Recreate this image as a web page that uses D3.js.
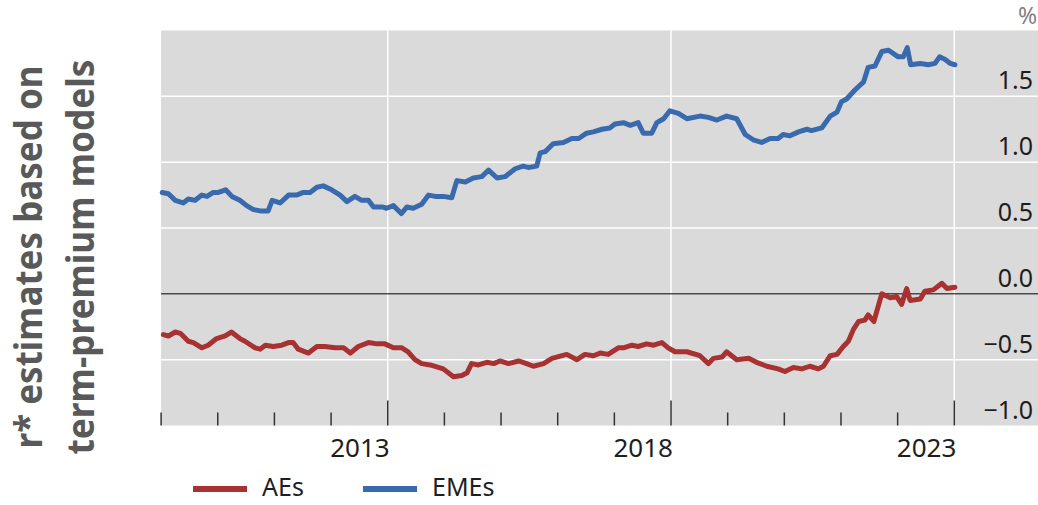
<!DOCTYPE html>
<html>
<head>
<meta charset="utf-8">
<script src="https://cdn.jsdelivr.net/npm/d3@7"></script>
<style>
  body { margin: 0; background: #fff; }
  svg { display: block; }
</style>
</head>
<body>
<svg id="chart" width="1038" height="505"></svg>
<script>
// values (decimal years, per cent)
var aeDates = [2009.04, 2009.13, 2009.25, 2009.34, 2009.48, 2009.57, 2009.72, 2009.83, 2009.98, 2010.13,
  2010.24, 2010.39, 2010.48, 2010.66, 2010.75, 2010.84, 2010.98, 2011.13, 2011.25, 2011.33,
  2011.42, 2011.60, 2011.75, 2011.89, 2012.07, 2012.22, 2012.34, 2012.48, 2012.66, 2012.81,
  2012.95, 2013.10, 2013.25, 2013.36, 2013.48, 2013.60, 2013.75, 2013.98, 2014.16, 2014.31,
  2014.40, 2014.48, 2014.60, 2014.75, 2014.87, 2014.98, 2015.13, 2015.31, 2015.45, 2015.57,
  2015.75, 2015.90, 2016.16, 2016.34, 2016.48, 2016.63, 2016.75, 2016.89, 2017.07, 2017.16,
  2017.31, 2017.42, 2017.57, 2017.69, 2017.84, 2017.95, 2018.07, 2018.28, 2018.51, 2018.66,
  2018.75, 2018.90, 2018.98, 2019.16, 2019.37, 2019.51, 2019.69, 2019.89, 2020.01, 2020.16,
  2020.31, 2020.45, 2020.60, 2020.69, 2020.81, 2020.93, 2021.04, 2021.13, 2021.22, 2021.31,
  2021.42, 2021.48, 2021.58, 2021.72, 2021.87, 2021.98, 2022.07, 2022.16, 2022.22, 2022.40,
  2022.48, 2022.63, 2022.78, 2022.87, 2023.01]
var aeValues = [-0.31, -0.32, -0.29, -0.30, -0.36, -0.37, -0.41, -0.39, -0.34, -0.32,
  -0.29, -0.34, -0.36, -0.41, -0.42, -0.39, -0.40, -0.39, -0.37, -0.37,
  -0.42, -0.45, -0.40, -0.40, -0.41, -0.41, -0.45, -0.40, -0.37, -0.38,
  -0.38, -0.41, -0.41, -0.44, -0.50, -0.53, -0.54, -0.57, -0.63, -0.62,
  -0.60, -0.53, -0.54, -0.52, -0.53, -0.51, -0.53, -0.51, -0.53, -0.55,
  -0.53, -0.49, -0.46, -0.50, -0.46, -0.47, -0.45, -0.46, -0.41, -0.41,
  -0.39, -0.40, -0.38, -0.39, -0.37, -0.41, -0.44, -0.44, -0.47, -0.53,
  -0.49, -0.48, -0.44, -0.50, -0.49, -0.52, -0.55, -0.57, -0.59, -0.56,
  -0.57, -0.55, -0.57, -0.55, -0.47, -0.46, -0.40, -0.36, -0.27, -0.21,
  -0.20, -0.16, -0.21, 0.00, -0.03, -0.02, -0.08, 0.04, -0.05, -0.04,
  0.02, 0.03, 0.08, 0.04, 0.05]

var emeDates = [2009.02, 2009.13, 2009.25, 2009.39, 2009.48, 2009.60, 2009.72, 2009.81, 2009.92, 2010.01,
  2010.14, 2010.25, 2010.39, 2010.51, 2010.63, 2010.75, 2010.89, 2010.96, 2011.10, 2011.25,
  2011.39, 2011.51, 2011.63, 2011.75, 2011.86, 2012.01, 2012.16, 2012.28, 2012.42, 2012.54,
  2012.66, 2012.75, 2012.90, 2012.98, 2013.10, 2013.24, 2013.34, 2013.45, 2013.60, 2013.72,
  2013.84, 2013.98, 2014.13, 2014.22, 2014.37, 2014.51, 2014.66, 2014.78, 2014.93, 2015.07,
  2015.25, 2015.39, 2015.48, 2015.63, 2015.69, 2015.78, 2015.92, 2016.10, 2016.25, 2016.37,
  2016.51, 2016.63, 2016.78, 2016.92, 2017.01, 2017.16, 2017.28, 2017.42, 2017.51, 2017.66,
  2017.75, 2017.87, 2017.98, 2018.13, 2018.28, 2018.51, 2018.66, 2018.81, 2018.98, 2019.16,
  2019.31, 2019.45, 2019.60, 2019.75, 2019.89, 2019.98, 2020.10, 2020.25, 2020.40, 2020.48,
  2020.66, 2020.81, 2020.93, 2021.01, 2021.10, 2021.25, 2021.40, 2021.48, 2021.60, 2021.72,
  2021.84, 2022.01, 2022.10, 2022.17, 2022.23, 2022.40, 2022.54, 2022.66, 2022.74, 2022.84,
  2022.93, 2023.01]
var emeValues = [0.77, 0.76, 0.71, 0.69, 0.72, 0.71, 0.75, 0.74, 0.77, 0.77,
  0.79, 0.74, 0.71, 0.67, 0.64, 0.63, 0.63, 0.71, 0.69, 0.75,
  0.75, 0.77, 0.77, 0.81, 0.82, 0.79, 0.75, 0.70, 0.74, 0.71,
  0.71, 0.66, 0.66, 0.65, 0.67, 0.61, 0.66, 0.65, 0.68, 0.75,
  0.74, 0.74, 0.73, 0.86, 0.85, 0.88, 0.89, 0.94, 0.88, 0.89,
  0.95, 0.97, 0.96, 0.97, 1.07, 1.08, 1.14, 1.15, 1.18, 1.18,
  1.22, 1.23, 1.25, 1.26, 1.29, 1.30, 1.28, 1.30, 1.22, 1.22,
  1.30, 1.33, 1.39, 1.37, 1.33, 1.35, 1.34, 1.32, 1.35, 1.33,
  1.21, 1.17, 1.15, 1.18, 1.18, 1.21, 1.20, 1.23, 1.25, 1.24,
  1.26, 1.35, 1.38, 1.46, 1.48, 1.55, 1.61, 1.72, 1.73, 1.84,
  1.85, 1.80, 1.80, 1.87, 1.74, 1.75, 1.74, 1.75, 1.80, 1.78,
  1.75, 1.74]

var yTicks = [1.5, 1.0, 0.5, 0.0, -0.5, -1.0]
var tickYears = [2009, 2010, 2011, 2012, 2013, 2014, 2015, 2016, 2017, 2018, 2019, 2020, 2021, 2022, 2023]
var labelYears = [2013, 2018, 2023]
var titleLines = ["r* estimates based on", "term-premium models"]
var seriesNames = ["AEs", "EMEs"]

var W = 1038, H = 505
var colors = {"AEs": "#a83232", "EMEs": "#3a6aae"}

var svg = d3.select("#chart")

var x = d3.scaleLinear().domain([2009, 2023]).range([161.1, 954.3])
var y = d3.scaleLinear().domain([-1, 2]).range([425.5, 30.5])

// plot background
svg.append("rect")
  .attr("x", x(2009))
  .attr("y", y(2))
  .attr("width", W - x(2009))
  .attr("height", y(-1) - y(2))
  .attr("fill", "#dadada")

// horizontal gridlines
svg.selectAll(".hgrid")
  .data([1.5, 1.0, 0.5, -0.5])
  .enter().append("line")
  .attr("class", "hgrid")
  .attr("x1", x(2009)).attr("x2", W)
  .attr("y1", function(d){ return y(d) })
  .attr("y2", function(d){ return y(d) })
  .attr("stroke", "#fff")
  .attr("stroke-width", 1.5)

// vertical gridlines at labelled years
svg.selectAll(".vgrid")
  .data(labelYears)
  .enter().append("line")
  .attr("class", "vgrid")
  .attr("x1", function(d){ return x(d) })
  .attr("x2", function(d){ return x(d) })
  .attr("y1", y(2)).attr("y2", y(-1))
  .attr("stroke", "#fff")
  .attr("stroke-width", 1.5)

// zero line
svg.append("line")
  .attr("x1", x(2009)).attr("x2", W)
  .attr("y1", y(0)).attr("y2", y(0))
  .attr("stroke", "#000")
  .attr("stroke-width", 1)

// year ticks
svg.selectAll(".tick")
  .data(tickYears)
  .enter().append("line")
  .attr("class", "tick")
  .attr("x1", function(d){ return x(d) })
  .attr("x2", function(d){ return x(d) })
  .attr("y1", function(d){ return labelYears.includes(d) ? y(-1) - 25 : y(-1) - 13 })
  .attr("y2", y(-1))
  .attr("stroke", "#333")
  .attr("stroke-width", 1.5)

svg.selectAll(".xlabel")
  .data(labelYears)
  .enter().append("text")
  .attr("class", "xlabel")
  .attr("x", function(d){ return x(d) + 2 })
  .attr("y", 457)
  .attr("text-anchor", "end")
  .attr("font-family", "Noto Sans, sans-serif")
  .attr("font-size", "26px")
  .attr("fill", "#1e1e1e")
  .text(function(d){ return d })

svg.selectAll(".ylabel")
  .data(yTicks)
  .enter().append("text")
  .attr("class", "ylabel")
  .attr("x", 1033)
  .attr("y", function(d){ return y(d) - 7 })
  .attr("text-anchor", "end")
  .attr("font-family", "Noto Sans, sans-serif")
  .attr("font-size", "25px")
  .attr("fill", "#1e1e1e")
  .text(function(d){ return (d < 0 ? "\u2212" : "") + Math.abs(d).toFixed(1) })

svg.append("text")
  .attr("x", 1037).attr("y", 24)
  .attr("text-anchor", "end")
  .attr("font-family", "Noto Sans, sans-serif")
  .attr("font-size", "23px")
  .attr("fill", "#808080")
  .text("%")

// series
var line = d3.line()
  .x(function(d){ return x(d[0]) })
  .y(function(d){ return y(d[1]) })

var series = [
  {name: "AEs", pts: d3.zip(aeDates, aeValues)},
  {name: "EMEs", pts: d3.zip(emeDates, emeValues)}
]

svg.selectAll(".series")
  .data(series)
  .enter().append("path")
  .attr("class", "series")
  .attr("d", function(d){ return line(d.pts) })
  .attr("fill", "none")
  .attr("stroke", function(d){ return colors[d.name] })
  .attr("stroke-width", 5)
  .attr("stroke-linejoin", "round")
  .attr("stroke-linecap", "round")

// legend
var legendX = [193, 363]
var lg = svg.selectAll(".legend")
  .data(seriesNames)
  .enter().append("g")
  .attr("class", "legend")
  .attr("transform", function(d, i){ return "translate(" + legendX[i] + ",489)" })
lg.append("line")
  .attr("x1", 0).attr("x2", 54)
  .attr("stroke", function(d){ return colors[d] })
  .attr("stroke-width", 6)
lg.append("text")
  .attr("x", 69).attr("y", 7)
  .attr("font-family", "Noto Sans, sans-serif")
  .attr("font-size", "25px")
  .attr("fill", "#1e1e1e")
  .text(function(d){ return d })

// rotated side title
var titleX = [42, 94], titleLen = [383, 395]
svg.selectAll(".title")
  .data(titleLines)
  .enter().append("text")
  .attr("class", "title")
  .attr("transform", function(d, i){ return "translate(" + titleX[i] + ",257) rotate(-90)" })
  .attr("text-anchor", "middle")
  .attr("font-family", "Noto Sans, sans-serif")
  .attr("font-weight", "bold")
  .attr("font-size", "37px")
  .attr("fill", "#595959")
  .attr("textLength", function(d, i){ return titleLen[i] })
  .attr("lengthAdjust", "spacingAndGlyphs")
  .text(function(d){ return d })
</script>
</body>
</html>
